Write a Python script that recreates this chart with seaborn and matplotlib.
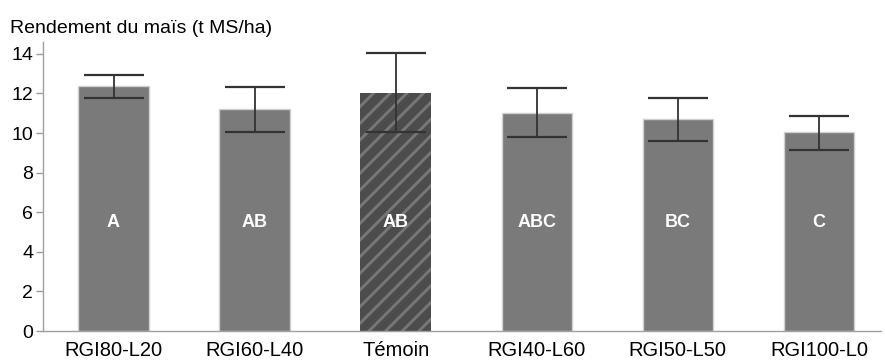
import numpy as np
import matplotlib
matplotlib.use("Agg")
import matplotlib.pyplot as plt
import seaborn as sns

# values
treatments = ["RGI80-L20", "RGI60-L40", "Témoin", "RGI40-L60", "RGI50-L50", "RGI100-L0"]
rendement = [12.36, 11.2, 12.02, 11.03, 10.7, 10.05]
err_low = [0.59, 1.17, 1.99, 1.25, 1.11, 0.9]
err_high = [0.58, 1.14, 2.02, 1.25, 1.07, 0.82]
groupes = ["A", "AB", "AB", "ABC", "BC", "C"]
temoin = "Témoin"

sns.set_style("white")
plt.rcParams["font.family"] = ["Liberation Sans", "DejaVu Sans"]
plt.rcParams["hatch.linewidth"] = 2.1

bar_grey = "#7a7a7a"

fig = plt.figure(figsize=(8.85, 3.6), dpi=100)
ax = fig.add_axes([43 / 885, 29 / 360, 838 / 885, 289 / 360])

sns.barplot(x=treatments, y=rendement, color=bar_grey, saturation=1,
            width=0.5, edgecolor="#d0d0d0", linewidth=1, ax=ax)

# control bar: dark base with lighter diagonal stripes
for patch, name in zip(ax.patches, treatments):
    if name == temoin:
        patch.set_facecolor("#4c4c4c")
        patch.set_hatch("//")
        patch.set_edgecolor("#777777")
        patch.set_linewidth(0)

pos = np.arange(len(treatments))
ax.errorbar(pos, rendement, yerr=[err_low, err_high], fmt="none",
            ecolor="#333333", elinewidth=1.3, capsize=21.5, capthick=1.6,
            zorder=5)

for x, g in zip(pos, groupes):
    ax.text(x, 5.48, g, color="white", fontsize=13, fontweight="bold",
            ha="center", va="center", zorder=6)

ax.set_xlim(-0.5, 5.44)
ax.set_ylim(0, 14.6)
ax.set_yticks(range(0, 15, 2))
ax.tick_params(axis="y", left=True, length=5, width=1, color="#9a9a9a",
               labelsize=14, pad=2, labelcolor="black")
ax.tick_params(axis="x", bottom=False, labelsize=14.5, pad=4, labelcolor="black")
ax.set_xlabel("")
ax.set_ylabel("")

sns.despine(ax=ax, top=True, right=True)
for side in ["left", "bottom"]:
    ax.spines[side].set_color("#a0a0a0")
    ax.spines[side].set_linewidth(1)

fig.text(10 / 885, 1 - 33 / 360, "Rendement du maïs (t MS/ha)",
         fontsize=14, va="baseline", ha="left", color="black")

fig.savefig("out.png", dpi=100)
